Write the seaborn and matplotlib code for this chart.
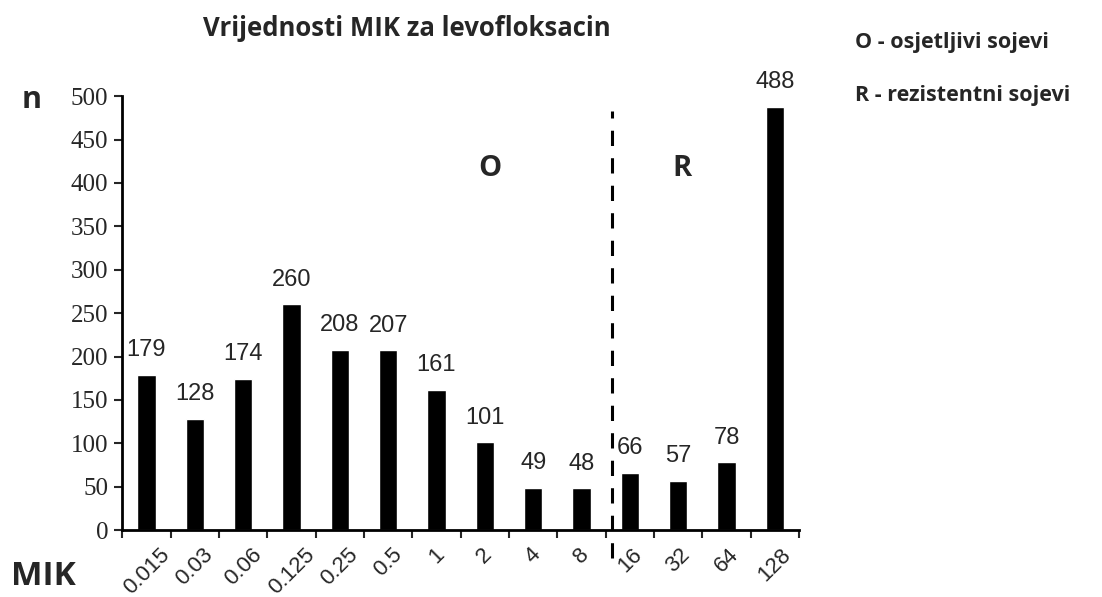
import matplotlib
matplotlib.use('Agg')
import matplotlib.pyplot as plt
import numpy as np
import pandas as pd
import seaborn as sns

sns.set_style('ticks')
plt.rcParams['font.serif'] = ['Liberation Serif', 'DejaVu Serif']
plt.rcParams['font.sans-serif'] = ['Liberation Sans', 'DejaVu Sans']

mik = ['0.015', '0.03', '0.06', '0.125', '0.25', '0.5', '1', '2', '4', '8', '16', '32', '64', '128']
counts = [179, 128, 174, 260, 208, 207, 161, 101, 49, 48, 66, 57, 78, 488]
yticks = list(range(0, 501, 50))

df = pd.DataFrame({'MIK': mik, 'n': counts})

fig = plt.figure(figsize=(11.02, 5.97), dpi=100)
ax = fig.add_axes([0.111, 0.112, 0.614, 0.727])

sns.barplot(data=df, x='MIK', y='n', color='black', saturation=1, width=0.38, ax=ax)

ax.set_xlim(-0.5, len(mik) - 0.5)
ax.set_ylim(0, 500)
ax.set_yticks(yticks)
ax.set_yticklabels([str(v) for v in yticks])
for t in ax.get_yticklabels():
    t.set_fontfamily('serif')
    t.set_fontsize(18)

# labels under bars, ticks between bars
ax.set_xticks(range(len(mik)))
ax.set_xticklabels(mik, rotation=45, ha='center')
for t in ax.get_xticklabels():
    t.set_fontfamily('sans-serif')
    t.set_fontsize(16)
ax.tick_params(axis='x', which='major', length=0, pad=10)
ax.set_xticks(np.arange(-0.5, len(mik), 1), minor=True)
ax.tick_params(axis='x', which='minor', length=6, width=1.5, direction='out')
ax.tick_params(axis='y', length=6, width=1.5, direction='out', pad=4)

ax.set_xlabel('')
ax.set_ylabel('')
sns.despine(ax=ax)
for s in ['left', 'bottom']:
    ax.spines[s].set_linewidth(2)
    ax.spines[s].set_color('black')

for c in ax.containers:
    ax.bar_label(c, labels=[str(v) for v in counts], padding=10,
                 family='sans-serif', fontsize=17)

# separator between susceptible and resistant
ax.axvline(9.63, ymin=-0.065, ymax=0.965, color='black', lw=2.2,
           dashes=(5, 4), clip_on=False)

ax.text(7.1, 417, 'O', ha='center', va='center', family='Open Sans',
        fontweight='bold', fontsize=21)
ax.text(11.07, 417, 'R', ha='center', va='center', family='Open Sans',
        fontweight='bold', fontsize=21)

fig.text(0.369, 0.953, 'Vrijednosti MIK za levofloksacin', ha='center', va='center',
         family='Open Sans', fontweight='bold', fontsize=18.5)
fig.text(0.776, 0.928, 'O - osjetljivi sojevi', ha='left', va='center',
         family='Open Sans', fontweight='bold', fontsize=15.5)
fig.text(0.776, 0.84, 'R - rezistentni sojevi', ha='left', va='center',
         family='Open Sans', fontweight='bold', fontsize=15.5)
fig.text(0.02, 0.832, 'n', ha='left', va='center',
         family='Open Sans', fontweight='bold', fontsize=22)
fig.text(0.01, 0.035, 'MIK', ha='left', va='center',
         family='Open Sans', fontweight='bold', fontsize=24)

fig.savefig('out.png', dpi=100)
